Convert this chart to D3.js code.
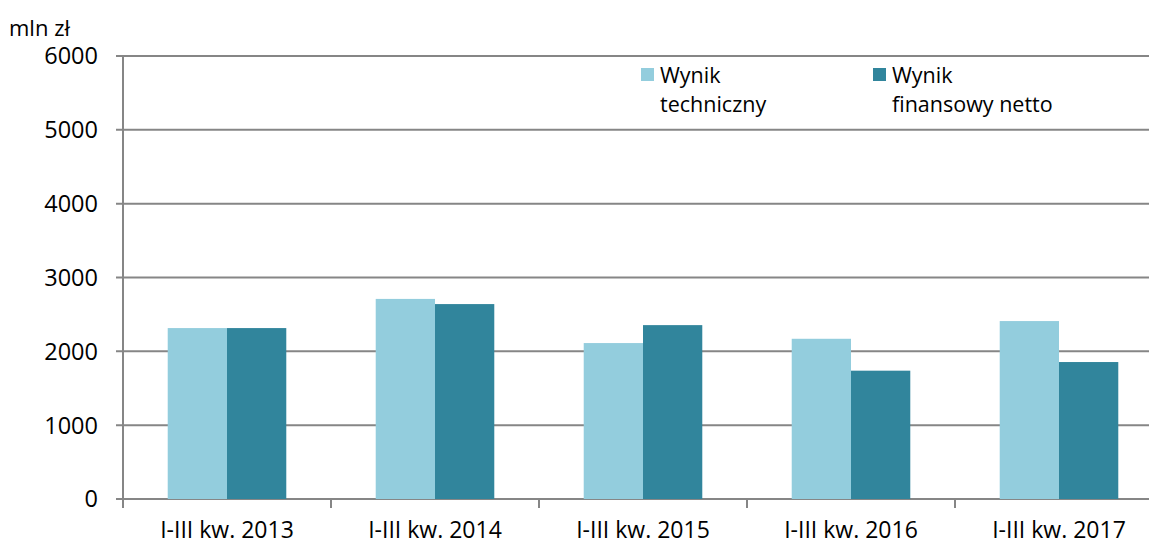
<!DOCTYPE html>
<html>
<head>
<meta charset="UTF-8">
<title>Wynik techniczny i finansowy netto</title>
<script src="https://d3js.org/d3.v7.min.js"></script>
<style>
  body { margin: 0; background: #fff; }
  svg text { font-family: "Open Sans", "DejaVu Sans", sans-serif; fill: #000; }
</style>
</head>
<body>
<svg id="chart"></svg>
<script>
// dane
const categories = ['I-III kw. 2013', 'I-III kw. 2014', 'I-III kw. 2015', 'I-III kw. 2016', 'I-III kw. 2017'];
const techniczny = [2315, 2710, 2112, 2170, 2410];
const netto = [2315, 2640, 2355, 1738, 1855];
const yTicks = [0, 1000, 2000, 3000, 4000, 5000, 6000];
const seriesNames = ['Wynik techniczny', 'Wynik finansowy netto'];
const colors = ['#93cddd', '#31859c'];

const W = 1149, H = 545;
const margin = { top: 56, left: 123, bottom: 46 };
const plotW = 208 * categories.length;
const plotH = H - margin.top - margin.bottom;

const svg = d3.select('#chart').attr('width', W).attr('height', H);
const g = svg.append('g').attr('transform', `translate(${margin.left},${margin.top})`);

const x = d3.scaleBand().domain(categories).range([0, plotW]).paddingInner(0.43).paddingOuter(0.215);
const x1 = d3.scaleBand().domain([0, 1]).range([0, x.bandwidth()]);
const y = d3.scaleLinear().domain([0, 6000]).range([plotH, 0]);

// siatka
g.selectAll('.grid').data(yTicks).enter().append('line')
  .attr('x1', -7).attr('x2', plotW)
  .attr('y1', d => y(d)).attr('y2', d => y(d))
  .attr('stroke', '#868686').attr('stroke-width', 2);

// oś Y
g.append('line').attr('x1', 0).attr('x2', 0).attr('y1', 0).attr('y2', plotH + 9)
  .attr('stroke', '#868686').attr('stroke-width', 2);
g.selectAll('.ylab').data(yTicks).enter().append('text')
  .attr('x', -25).attr('y', d => y(d)).attr('dy', '0.36em')
  .attr('text-anchor', 'end').style('font-size', '23.5px')
  .text(d => d);

// słupki
const groups = g.selectAll('.cat').data(categories).enter().append('g')
  .attr('transform', d => `translate(${x(d)},0)`);
groups.append('rect')
  .attr('x', x1(0)).attr('width', x1.bandwidth())
  .attr('y', (d, i) => y(techniczny[i])).attr('height', (d, i) => plotH - y(techniczny[i]))
  .attr('fill', colors[0]);
groups.append('rect')
  .attr('x', x1(1)).attr('width', x1.bandwidth())
  .attr('y', (d, i) => y(netto[i])).attr('height', (d, i) => plotH - y(netto[i]))
  .attr('fill', colors[1]);

// oś X - znaczniki między kategoriami
g.selectAll('.xtick').data(d3.range(categories.length + 1)).enter().append('line')
  .attr('x1', d => d * 208).attr('x2', d => d * 208)
  .attr('y1', plotH).attr('y2', plotH + 9)
  .attr('stroke', '#868686').attr('stroke-width', 2);
g.selectAll('.xlab').data(categories).enter().append('text')
  .attr('x', d => x(d) + x.bandwidth() / 2).attr('y', plotH + 39)
  .attr('text-anchor', 'middle').style('font-size', '23px')
  .text(d => d);

// jednostka
svg.append('text').attr('x', 9).attr('y', 36).style('font-size', '22px').text('mln zł');

// legenda
const legX = [641, 873];
const legLines = [['Wynik', 'techniczny'], ['Wynik', 'finansowy netto']];
seriesNames.forEach((s, i) => {
  svg.append('rect').attr('x', legX[i]).attr('y', 68).attr('width', 13).attr('height', 13).attr('fill', colors[i]);
  legLines[i].forEach((t, j) => {
    svg.append('text').attr('x', legX[i] + 19).attr('y', 83 + j * 29)
      .style('font-size', '21.5px').text(t);
  });
});
</script>
</body>
</html>
